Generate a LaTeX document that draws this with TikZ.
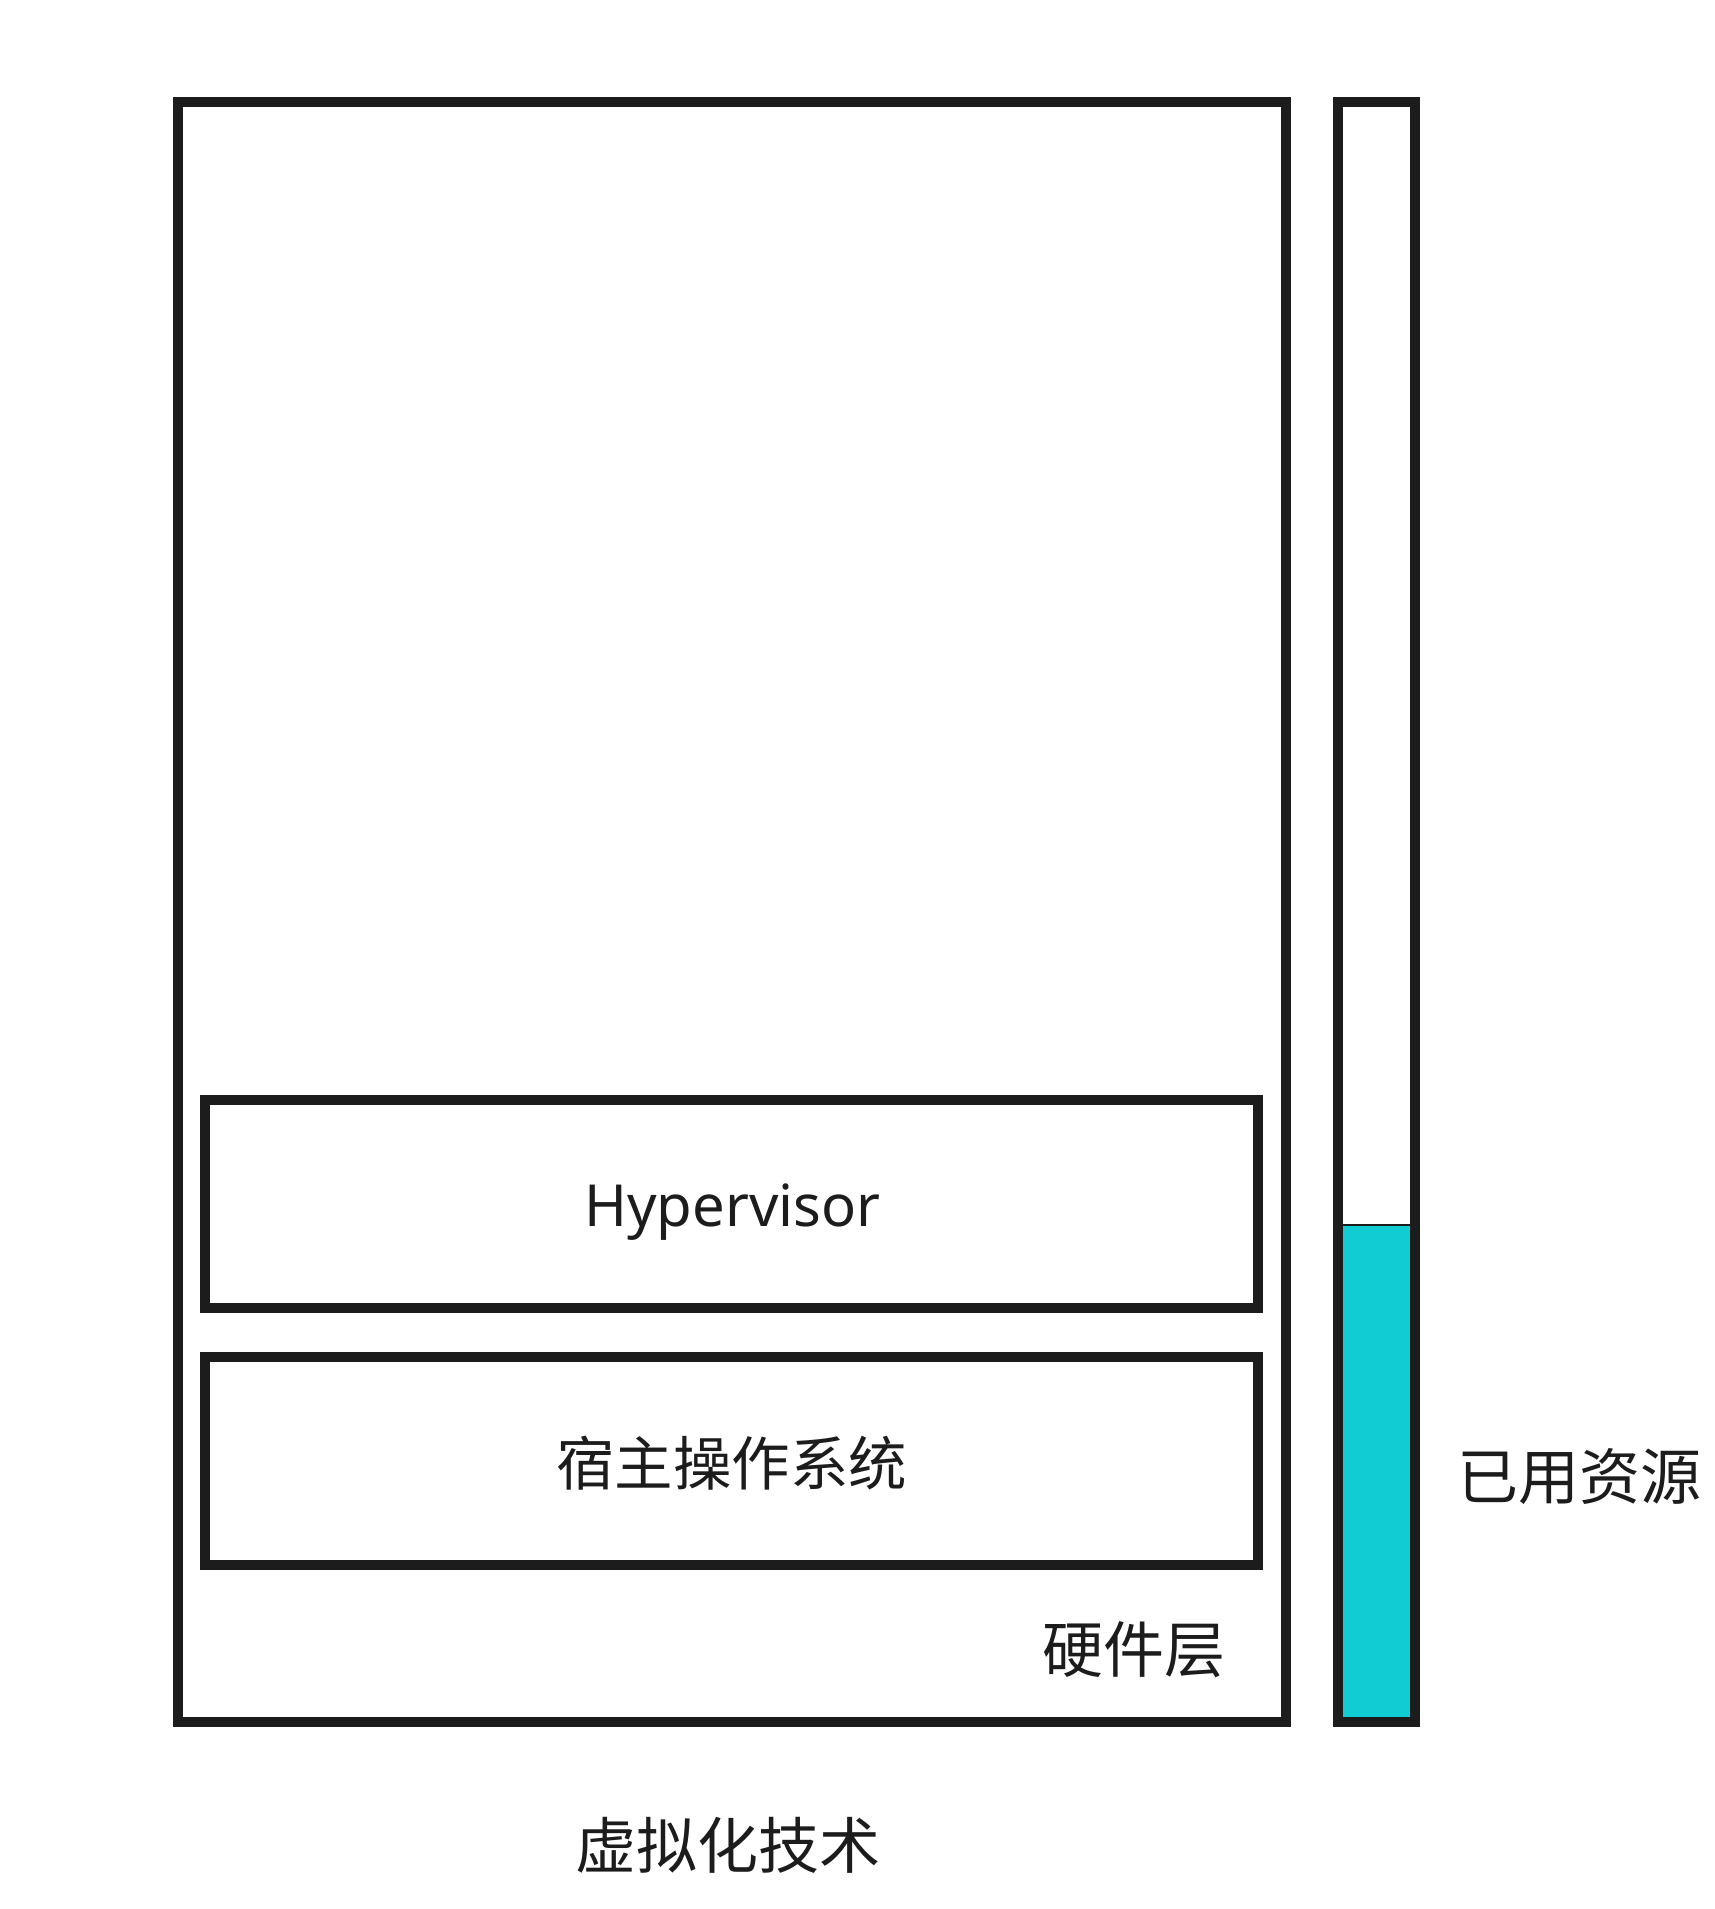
\documentclass[tikz,border=0pt]{standalone}
\usepackage{fontspec}
\setmainfont{Noto Sans}
\newfontfamily\cjk{Noto Sans CJK SC}
\definecolor{ink}{HTML}{1C1C1C}
\definecolor{usedfill}{HTML}{12CCD4}
\begin{document}
\begin{tikzpicture}[x=1pt,y=-1pt,
  frame/.style={draw=ink,line width=10pt,line join=miter},
  label/.style={text=ink,font=\fontsize{58}{68}\selectfont,inner sep=0pt},
  cjklabel/.style={text=ink,font=\cjk\fontsize{61}{72}\selectfont,inner sep=0pt}]
\useasboundingbox (0,0) rectangle (1714,1909);
% hardware layer
\draw[frame] (177.5,101.7) rectangle (1285.7,1722);
% hypervisor and host OS layers
\draw[frame] (205,1100) rectangle (1258.3,1308.3);
\draw[frame] (205,1356.7) rectangle (1258.3,1565);
\node[label,anchor=base] (hyp) at (732.5,1226) {Hypervisor};
\node[cjklabel,font=\cjk\fontsize{58.5}{70}\selectfont,anchor=base] (hostos) at (731.7,1485.2) {宿主操作系统};
\node[cjklabel,anchor=base east] (hwlabel) at (1225.5,1672.2) {硬件层};
% resource usage bar
\fill[usedfill] (1342.7,1225) rectangle (1410,1717.3);
\draw[ink,line width=1.2pt] (1342.7,1225) -- (1410,1225);
\draw[frame] (1337.7,101.7) rectangle (1415,1722);
\node[cjklabel,anchor=base] (used) at (1579,1499.2) {已用资源};
% caption
\node[cjklabel,anchor=base] (caption) at (728.3,1868.5) {虚拟化技术};
\end{tikzpicture}
\end{document}
